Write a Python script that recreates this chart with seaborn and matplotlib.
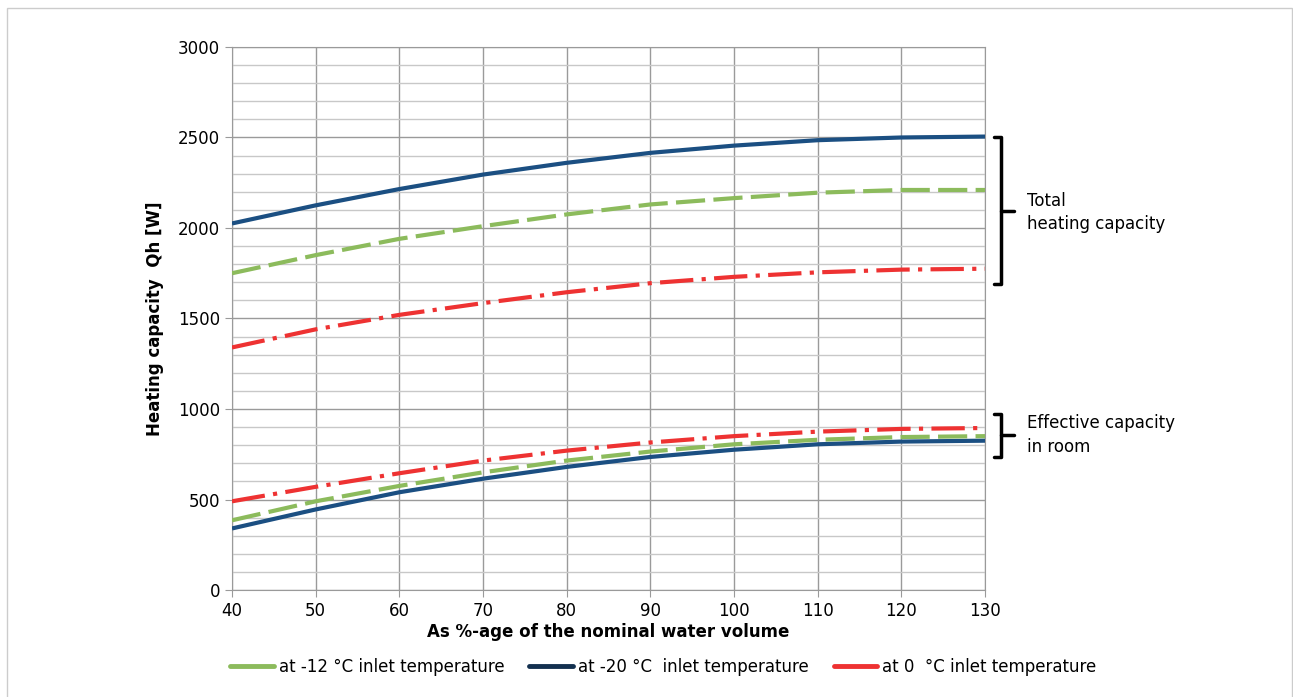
import pandas as pd
import matplotlib.pyplot as plt
import seaborn as sns
from matplotlib.lines import Line2D

volume = [40, 50, 60, 70, 80, 90, 100, 110, 120, 130]

# Total heating capacity
total_m20 = [2025, 2125, 2215, 2295, 2360, 2415, 2455, 2485, 2500, 2505]
total_m12 = [1750, 1850, 1940, 2010, 2075, 2130, 2165, 2195, 2210, 2210]
total_0 = [1340, 1440, 1520, 1585, 1645, 1695, 1730, 1755, 1770, 1775]

# Effective capacity in room
eff_0 = [490, 570, 645, 715, 770, 815, 850, 875, 890, 895]
eff_m12 = [385, 490, 575, 650, 715, 765, 805, 830, 845, 850]
eff_m20 = [340, 445, 540, 615, 680, 735, 775, 805, 820, 825]

labels = ['at -12 °C inlet temperature', 'at -20 °C  inlet temperature', 'at 0  °C inlet temperature']
green, blue, red = '#8cbb5c', '#1b4f82', '#ee3232'

sns.set_style('white')
plt.rcParams['font.family'] = ['DejaVu Sans']

fig = plt.figure(figsize=(12.93, 6.97), dpi=100)
ax = fig.add_axes([0.1794, 0.1535, 0.5824, 0.7791])

series = [
    (total_m20, blue, '-'),
    (total_m12, green, (0, (7, 2))),
    (total_0, red, (0, (8, 2, 1, 2))),
    (eff_m20, blue, '-'),
    (eff_m12, green, (0, (7, 2))),
    (eff_0, red, (0, (8, 2, 1, 2))),
]
for vals, col, ls in series:
    sns.lineplot(x=volume, y=vals, color=col, linewidth=3.0, linestyle=ls, ax=ax,
                 solid_capstyle='butt', zorder=3)

ax.set_xlim(40, 130)
ax.set_ylim(0, 3000)
ax.set_xticks(range(40, 131, 10))
ax.set_yticks(range(0, 3001, 500))
ax.set_yticks(range(0, 3001, 100), minor=True)
ax.grid(True, which='major', axis='x', color='#9a9a9a', linewidth=1)
ax.grid(True, which='major', axis='y', color='#9a9a9a', linewidth=1)
ax.grid(True, which='minor', axis='y', color='#c8c8c8', linewidth=1)
ax.tick_params(axis='both', which='major', labelsize=12, length=5, color='#9a9a9a',
               labelcolor='black', direction='out')
ax.tick_params(axis='y', which='minor', length=0)
ax.tick_params(left=True, bottom=True)
for s in ax.spines.values():
    s.set_color('#9a9a9a')

ax.set_xlabel('As %-age of the nominal water volume', fontsize=12, fontweight='bold', labelpad=2, color='black')
ax.set_ylabel('Heating capacity  Qh [W]', fontsize=12, fontweight='bold', labelpad=10, color='black')

# Brackets
def bracket(y0, y1):
    xb, xt = 131.9, 133.5
    ym = (y0 + y1) / 2
    ax.plot([131.1, xb, xb, 131.1], [y0, y0, y1, y1], color='black', lw=2.5, clip_on=False)
    ax.plot([xb, xt], [ym, ym], color='black', lw=2.5, clip_on=False)

bracket(2500, 1690)
bracket(975, 735)
ax.text(135.0, 2085, 'Total\nheating capacity', fontsize=12, va='center', ha='left', linespacing=1.4, color='black')
ax.text(135.0, 855, 'Effective capacity\nin room', fontsize=12, va='center', ha='left', linespacing=1.4, color='black')

handles = [Line2D([], [], color=c, lw=3.5) for c in [green, '#13304f', red]]
fig.legend(handles, labels, loc='center', bbox_to_anchor=(0.513, 0.043), ncol=3, frameon=False,
           fontsize=12, handlelength=2.6, handletextpad=0.3, columnspacing=1.5, labelcolor='black')

fig.patches.append(plt.Rectangle((0.0054, -0.01), 0.994, 0.9985, transform=fig.transFigure,
                                 fill=False, edgecolor='#cccccc', lw=1))

fig.savefig('out.png', dpi=100)
